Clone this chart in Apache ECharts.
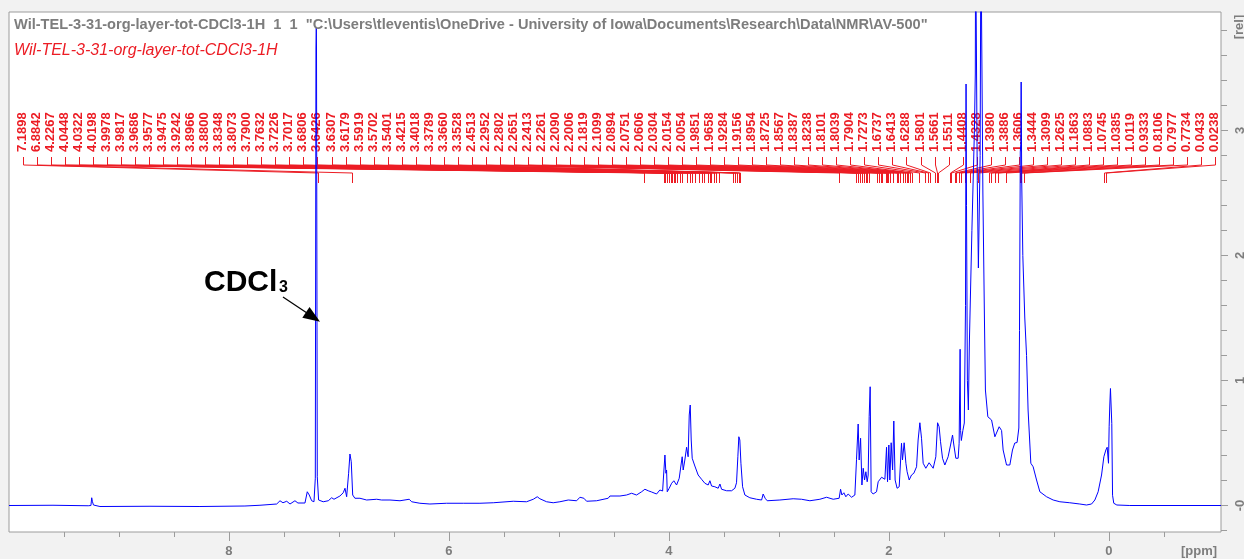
<!DOCTYPE html>
<html>
<head>
<meta charset="utf-8">
<title>Wil-TEL-3-31-org-layer-tot-CDCl3-1H</title>
<script src="https://cdn.jsdelivr.net/npm/echarts@6/dist/echarts.min.js"></script>
<style>
  html, body { margin: 0; padding: 0; background: #f2f2f2; }
  #chart { width: 1244px; height: 559px; }
</style>
</head>
<body>
<div id="chart"></div>
<script>
// 1H spectrum trace: [chemical shift (ppm), relative intensity]
const spectrumPoints = [
  [10.00, 0.000], [9.60, 0.002], [9.28, -0.002], [9.255, 0.000], [9.248, 0.062], [9.241, 0.030],
  [9.232, 0.004], [9.173, -0.008], [8.718, -0.006], [8.264, -0.008], [7.855, -0.004], [7.718, 0.002],
  [7.566, 0.012], [7.536, 0.038], [7.509, 0.022], [7.475, 0.034], [7.445, 0.012], [7.400, 0.038],
  [7.373, 0.020], [7.309, 0.020], [7.288, 0.110], [7.270, 0.084], [7.248, 0.038], [7.227, 0.030],
  [7.215, 0.218], [7.209, 3.660], [7.206, 3.820], [7.204, 3.660], [7.197, 0.230], [7.185, 0.044],
  [7.143, 0.030], [7.097, 0.038], [7.066, 0.062], [7.045, 0.050], [7.027, 0.038], [6.991, 0.076],
  [6.961, 0.102], [6.945, 0.138], [6.930, 0.070], [6.912, 0.258], [6.900, 0.412], [6.888, 0.350],
  [6.875, 0.084], [6.855, 0.058], [6.809, 0.058], [6.748, 0.044], [6.657, 0.050], [6.612, 0.044],
  [6.536, 0.044], [6.445, 0.038], [6.361, 0.050], [6.355, 0.060], [6.339, 0.030], [6.264, 0.018],
  [6.173, 0.012], [6.021, 0.018], [5.870, 0.018], [5.718, 0.018], [5.597, 0.022], [5.415, 0.034],
  [5.294, 0.030], [5.233, 0.050], [5.197, 0.070], [5.173, 0.054], [5.112, 0.030], [5.052, 0.022],
  [4.991, 0.030], [4.915, 0.044], [4.900, 0.028], [4.839, 0.038], [4.809, 0.066], [4.791, 0.076],
  [4.773, 0.058], [4.748, 0.034], [4.657, 0.038], [4.552, 0.058], [4.536, 0.076], [4.445, 0.076],
  [4.385, 0.084], [4.339, 0.098], [4.324, 0.108], [4.294, 0.084], [4.248, 0.110], [4.218, 0.130],
  [4.188, 0.118], [4.157, 0.108], [4.112, 0.092], [4.082, 0.124], [4.057, 0.116], [4.048, 0.244],
  [4.036, 0.404], [4.027, 0.258], [4.021, 0.284], [4.015, 0.110], [3.997, 0.138], [3.975, 0.178],
  [3.955, 0.198], [3.930, 0.164], [3.906, 0.218], [3.891, 0.316], [3.879, 0.390], [3.870, 0.284],
  [3.855, 0.364], [3.839, 0.466], [3.825, 0.390], [3.815, 0.724], [3.806, 0.804], [3.797, 0.524],
  [3.788, 0.378], [3.764, 0.316], [3.734, 0.244], [3.703, 0.210], [3.673, 0.178], [3.643, 0.164],
  [3.627, 0.198], [3.612, 0.156], [3.582, 0.150], [3.552, 0.138], [3.536, 0.172], [3.521, 0.130],
  [3.475, 0.118], [3.430, 0.118], [3.400, 0.138], [3.385, 0.182], [3.373, 0.390], [3.364, 0.550],
  [3.355, 0.524], [3.345, 0.338], [3.330, 0.150], [3.309, 0.084], [3.264, 0.062], [3.203, 0.050],
  [3.157, 0.044], [3.143, 0.092], [3.125, 0.058], [3.106, 0.038], [2.991, 0.044], [2.870, 0.054],
  [2.794, 0.050], [2.718, 0.038], [2.627, 0.050], [2.566, 0.066], [2.506, 0.050], [2.452, 0.058],
  [2.439, 0.130], [2.427, 0.084], [2.409, 0.102], [2.391, 0.070], [2.370, 0.092], [2.339, 0.066],
  [2.309, 0.084], [2.294, 0.370], [2.279, 0.652], [2.270, 0.364], [2.257, 0.538], [2.245, 0.164],
  [2.233, 0.298], [2.221, 0.204], [2.209, 0.270], [2.197, 0.190], [2.188, 0.244], [2.179, 0.710],
  [2.170, 0.950], [2.161, 0.110], [2.143, 0.092], [2.112, 0.110], [2.097, 0.190], [2.066, 0.226],
  [2.036, 0.210], [2.021, 0.466], [2.012, 0.190], [2.000, 0.484], [1.991, 0.204], [1.979, 0.502],
  [1.966, 0.284], [1.955, 0.676], [1.943, 0.204], [1.925, 0.138], [1.906, 0.150], [1.885, 0.498],
  [1.876, 0.364], [1.861, 0.502], [1.845, 0.338], [1.834, 0.270], [1.815, 0.204], [1.794, 0.244],
  [1.773, 0.258], [1.748, 0.310], [1.734, 0.524], [1.718, 0.662], [1.703, 0.538], [1.688, 0.338],
  [1.664, 0.298], [1.634, 0.342], [1.597, 0.298], [1.573, 0.390], [1.557, 0.662], [1.543, 0.630],
  [1.530, 0.510], [1.512, 0.378], [1.491, 0.324], [1.461, 0.390], [1.439, 0.484], [1.421, 0.564],
  [1.409, 0.484], [1.391, 0.378], [1.370, 0.378], [1.361, 0.498], [1.352, 1.250], [1.348, 0.600],
  [1.341, 0.520], [1.327, 0.600], [1.314, 0.660], [1.303, 1.600], [1.298, 3.372], [1.294, 2.400],
  [1.286, 1.000], [1.277, 0.764], [1.268, 1.300], [1.245, 2.200], [1.222, 3.000], [1.214, 3.452],
  [1.211, 4.600], [1.206, 4.600], [1.196, 2.600], [1.186, 1.900], [1.170, 2.800], [1.163, 4.600],
  [1.157, 4.600], [1.145, 2.500], [1.131, 1.500], [1.122, 0.924], [1.100, 0.710], [1.066, 0.684],
  [1.036, 0.550], [0.997, 0.630], [0.975, 0.600], [0.961, 0.444], [0.930, 0.324], [0.900, 0.324],
  [0.876, 0.444], [0.855, 0.500], [0.834, 0.504], [0.818, 0.620], [0.812, 1.400], [0.805, 2.828],
  [0.800, 2.900], [0.797, 3.388], [0.792, 2.600], [0.782, 2.000], [0.764, 1.500], [0.748, 1.200],
  [0.734, 0.764], [0.709, 0.338], [0.688, 0.310], [0.657, 0.204], [0.627, 0.110], [0.566, 0.070],
  [0.506, 0.044], [0.445, 0.030], [0.355, 0.022], [0.264, 0.012], [0.203, 0.004], [0.157, 0.012],
  [0.127, 0.044], [0.097, 0.110], [0.066, 0.244], [0.045, 0.390], [0.027, 0.444], [0.015, 0.466],
  [0.003, 0.338], [-0.003, 0.630], [-0.009, 0.804], [-0.015, 0.936], [-0.021, 0.924], [-0.027, 0.656],
  [-0.034, 0.082], [-0.045, 0.018], [-0.073, 0.004], [-0.191, 0.000], [-1.020, 0.000]
];

// Picked peak positions (ppm), listed left to right in the label row
const peakShifts = [
  7.1898, 6.8842, 4.2267, 4.0448, 4.0322, 4.0198, 3.9978, 3.9817, 3.9686, 3.9577, 3.9475, 3.9242,
  3.8966, 3.8800, 3.8348, 3.8073, 3.7900, 3.7632, 3.7226, 3.7017, 3.6806, 3.6426, 3.6307, 3.6179,
  3.5919, 3.5702, 3.5401, 3.4215, 3.4018, 3.3789, 3.3660, 3.3528, 2.4513, 2.2952, 2.2802, 2.2651,
  2.2413, 2.2261, 2.2090, 2.2006, 2.1819, 2.1099, 2.0894, 2.0751, 2.0606, 2.0304, 2.0154, 2.0054,
  1.9851, 1.9658, 1.9284, 1.9156, 1.8954, 1.8725, 1.8567, 1.8387, 1.8238, 1.8101, 1.8039, 1.7904,
  1.7273, 1.6737, 1.6413, 1.6288, 1.5801, 1.5661, 1.5511, 1.4408, 1.4328, 1.3980, 1.3886, 1.3606,
  1.3444, 1.3099, 1.2625, 1.1863, 1.0883, 1.0745, 1.0385, 1.0119, 0.9333, 0.8106, 0.7977, 0.7734,
  0.0433, 0.0238
];

// Axis ticks
const ppmMajorTicks = [0, 2, 4, 6, 8];
const ppmMinorTicks = [-0.5, 0, 0.5, 1, 1.5, 2, 2.5, 3, 3.5, 4, 4.5, 5, 5.5, 6, 6.5, 7, 7.5, 8, 8.5, 9, 9.5];
const relMajorTicks = [0, 1, 2, 3];
const relMinorTicks = [-0.2, 0, 0.2, 0.4, 0.6, 0.8, 1, 1.2, 1.4, 1.6, 1.8, 2, 2.2, 2.4, 2.6, 2.8, 3, 3.2, 3.4, 3.6, 3.8];

// Header texts
const datasetName = 'Wil-TEL-3-31-org-layer-tot-CDCl3-1H';
const headerLine = 'Wil-TEL-3-31-org-layer-tot-CDCl3-1H  1  1  "C:\\Users\\tleventis\\OneDrive - University of Iowa\\Documents\\Research\\Data\\NMR\\AV-500"';

// Solvent annotation: label and arrow end points [ppm, rel]
const solventLabel = 'CDCl';
const solventSub = '3';
const solventArrow = [[7.509, 1.668], [7.236, 1.508]];

const PPM_MIN = -1.02, PPM_MAX = 10.0;
const REL_MIN = -0.212, REL_MAX = 3.948;

const BLUE = '#0000ff';
const RED = '#ec1c24';
const GRAY = '#7d7d7d';
const AXIS_GRAY = '#9c9c9c';
const FONT = '"Liberation Sans", Arial, Helvetica, sans-serif';

const chart = echarts.init(document.getElementById('chart'), null, { renderer: 'canvas' });

function crisp(v) { return Math.round(v) + 0.5; }

const baseX = {
  type: 'value', min: PPM_MIN, max: PPM_MAX, inverse: true, position: 'bottom',
  axisLine: { show: false, onZero: false }, splitLine: { show: false }
};
const baseY = {
  type: 'value', min: REL_MIN, max: REL_MAX, position: 'right',
  axisLine: { show: false, onZero: false }, splitLine: { show: false }
};

const option = {
  animation: false,
  backgroundColor: '#f2f2f2',
  grid: {
    left: 9, right: 23, top: 12, bottom: 27,
    outerBoundsMode: 'none',
    containLabel: false,
    show: true, backgroundColor: '#ffffff', borderColor: AXIS_GRAY, borderWidth: 1
  },
  xAxis: [
    Object.assign({}, baseX, {
      axisTick: { show: true, inside: false, customValues: ppmMinorTicks, length: 5, lineStyle: { color: AXIS_GRAY } },
      axisLabel: { show: false }
    }),
    Object.assign({}, baseX, {
      axisTick: { show: true, inside: false, customValues: ppmMajorTicks, length: 9, lineStyle: { color: AXIS_GRAY } },
      axisLabel: {
        show: true, customValues: ppmMajorTicks, margin: 13,
        color: GRAY, fontWeight: 'bold', fontSize: 13, fontFamily: FONT
      }
    })
  ],
  yAxis: [
    Object.assign({}, baseY, {
      axisTick: { show: true, inside: false, customValues: relMinorTicks, length: 6, lineStyle: { color: AXIS_GRAY } },
      axisLabel: { show: false }
    }),
    Object.assign({}, baseY, {
      axisTick: { show: true, inside: false, customValues: relMajorTicks, length: 7, lineStyle: { color: AXIS_GRAY } },
      axisLabel: {
        show: true, customValues: relMajorTicks, rotate: 90, margin: 13,
        color: GRAY, fontWeight: 'bold', fontSize: 13, fontFamily: FONT,
        formatter: v => (v === 0 ? '-0' : String(v))
      }
    })
  ],
  series: [
    {
      // peak-pick labels with their connector lines down to each shift
      type: 'custom',
      name: 'peaks',
      xAxisIndex: 0, yAxisIndex: 0,
      silent: true,
      z: 2,
      data: peakShifts.map(s => [s, 0]),
      renderItem: function (params, api) {
        const cs = params.coordSys;
        const i = params.dataIndex;
        const n = peakShifts.length;
        const shift = api.value(0);
        const slotX = crisp(cs.x + 14 + i * (cs.width - 20) / (n - 1));
        const peakX = crisp(api.coord([shift, 0])[0]);
        const top = cs.y;
        return {
          type: 'group',
          children: [
            {
              type: 'polyline',
              shape: { points: [[slotX, top + 145], [slotX, top + 153], [peakX, top + 161], [peakX, top + 171]] },
              style: { stroke: RED, lineWidth: 1, fill: null }
            },
            {
              type: 'text',
              x: slotX - 1, y: top + 140,
              rotation: Math.PI / 2,
              style: {
                text: shift.toFixed(4), fill: RED,
                font: 'bold 13px ' + FONT,
                align: 'left', verticalAlign: 'middle',
                textAlign: 'left', textVerticalAlign: 'middle'
              }
            }
          ]
        };
      }
    },
    {
      type: 'line',
      name: datasetName,
      xAxisIndex: 0, yAxisIndex: 0,
      data: spectrumPoints,
      showSymbol: false,
      symbol: 'none',
      clip: true,
      sampling: null,
      z: 3,
      lineStyle: { color: BLUE, width: 1 },
      markLine: {
        silent: true,
        symbol: ['none', 'triangle'],
        symbolSize: [13, 17],
        label: { show: false },
        lineStyle: { color: '#000', width: 1.2, type: 'solid' },
        itemStyle: { color: '#000' },
        data: [[{ coord: solventArrow[0] }, { coord: solventArrow[1] }]]
      }
    }
  ],
  graphic: [
    {
      type: 'text', x: 14, y: 25, z: 10,
      style: { text: headerLine, fill: GRAY, font: 'bold 14.6px ' + FONT, verticalAlign: 'middle' }
    },
    {
      type: 'text', x: 14, y: 51, z: 10,
      style: { text: datasetName, fill: RED, font: 'italic 16px ' + FONT, verticalAlign: 'middle' }
    },
    {
      type: 'text', x: 204, y: 283, z: 10,
      style: { text: solventLabel, fill: '#000', font: 'bold 30px ' + FONT, verticalAlign: 'middle' }
    },
    {
      type: 'text', x: 279, y: 288, z: 10,
      style: { text: solventSub, fill: '#000', font: 'bold 16px ' + FONT, verticalAlign: 'middle' }
    },
    {
      type: 'text', x: 1199, y: 551, z: 10,
      style: { text: '[ppm]', fill: GRAY, font: 'bold 13px ' + FONT, align: 'center', verticalAlign: 'middle' }
    },
    {
      type: 'text', x: 1239, y: 27, z: 10, rotation: Math.PI / 2,
      style: { text: '[rel]', fill: GRAY, font: 'bold 13px ' + FONT, align: 'center', verticalAlign: 'middle' }
    }
  ]
};

chart.setOption(option);
</script>
</body>
</html>
